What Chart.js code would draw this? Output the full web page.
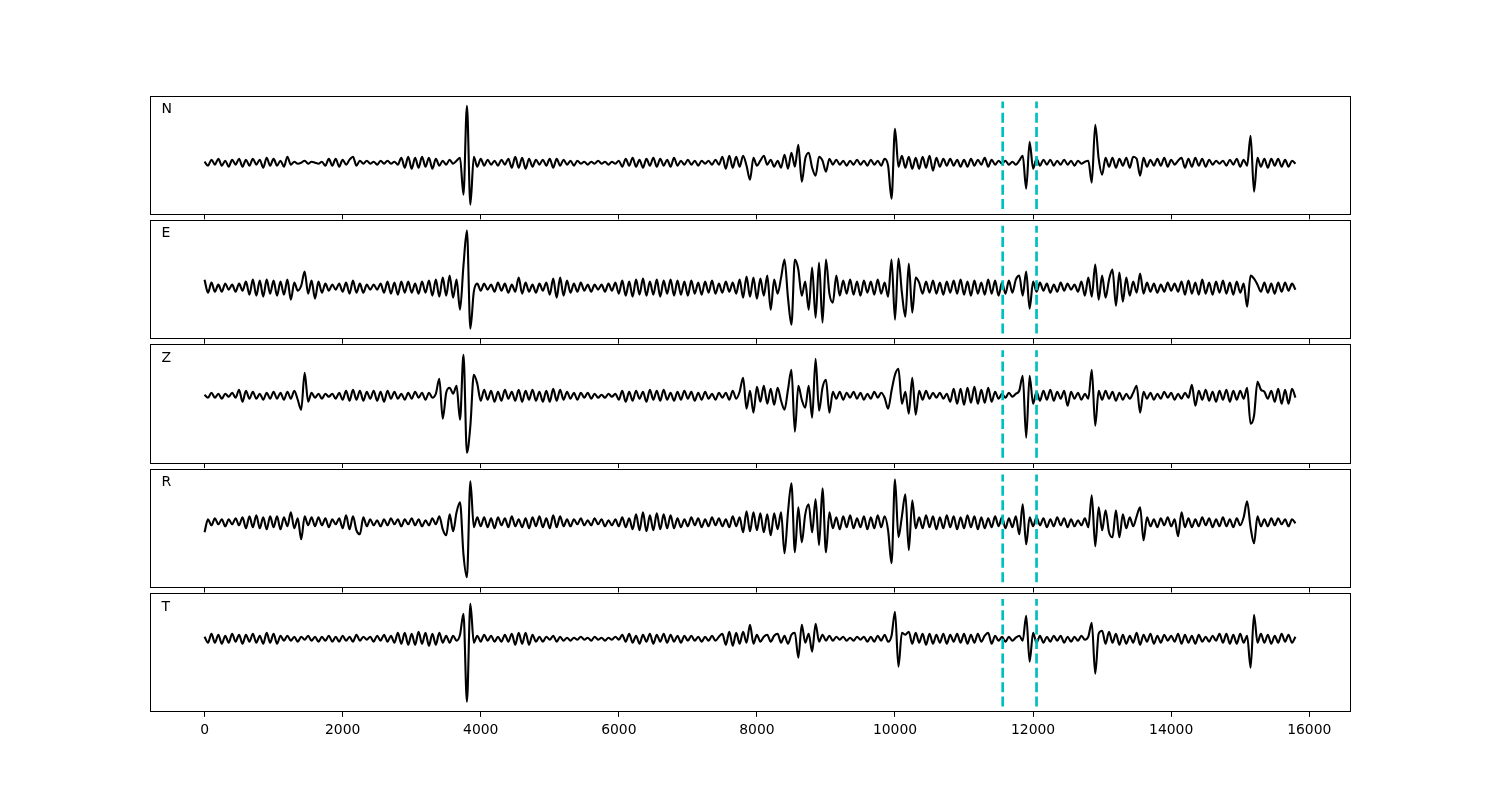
<!DOCTYPE html>
<html>
<head>
<meta charset="utf-8">
<script src="https://cdn.jsdelivr.net/npm/chart.js@4"></script>
<style>
    body { margin: 0; background: #fff; }
    #wrap { position: relative; width: 1500px; height: 800px; background: #fff; }
    #wrap canvas { position: absolute; left: 0; }
</style>
</head>
<body>
<div id="wrap"></div>
<script>
// channel names, one panel each
const channels = ['N', 'E', 'Z', 'R', 'T'];
const sampleStep = 50;
const pickTimes = [11560, 12050];   // cyan dashed markers
const markerLow = [-46.4, -45.8, -62.1, -59.9, -67.9];
const markerHigh = [61.3, 61.9, 45.6, 47.8, 39.8];
const tickValues = [0, 2000, 4000, 6000, 8000, 10000, 12000, 14000, 16000];

// amplitudes (arbitrary units, up = positive)
const traceN = [
    1, -3, 3, -2, 4, -3, 2, -4, 3, -2, 4, -4, 3, -3, 4, -2, 3, -5, 5, -3,
    4, -3, 2, -4, 6, -2, 1, -1, 0, 2, -1, 1, 0, -1, 1, -3, 4, -3, 4, -4,
    3, -2, 3, 6, -3, 2, -1, 2, -1, 1, -2, 2, -1, 2, -1, 1, -2, 5, -5, 6,
    -6, 5, -5, 6, -4, 5, -6, 4, -3, 2, -2, 3, -1, 2, 5, -32, 57, -42, 6, -4,
    4, -3, 3, -2, 2, -3, 3, -2, 4, -5, 6, -5, 5, -6, 4, -4, 3, -2, 3, -3,
    4, -5, 4, -3, 3, -2, 2, -3, 2, -1, 1, -2, 1, -1, 2, -1, 1, -2, 1, -1,
    2, -4, 4, -3, 5, -4, 3, -5, 4, -3, 5, -4, 4, -3, 3, -4, 5, -3, 2, -2,
    3, -2, 2, -3, 2, -1, 2, -2, 3, -2, 6, -6, 7, -5, 6, -4, 7, -3, -17, 5,
    -3, 2, 7, -2, 3, -4, 2, -5, 8, -6, 10, -4, 18, -19, 4, 10, -5, -13, 6, 2,
    -9, 4, -2, 3, -2, 2, -3, 2, -2, 3, -2, 2, -3, 3, -2, 2, -3, 4, -3, -36,
    34, -4, 7, -5, 6, -6, 5, -6, 6, -5, 7, -8, 5, -4, 4, -3, 4, -3, 3, -4,
    3, -4, 4, -3, 3, -2, 5, -4, 3, -2, 2, -1, 2, -2, 1, -2, 2, 7, -26, 21,
    -6, 4, -3, 3, -2, 3, -3, 2, -2, 3, -2, 2, -3, 2, -1, 1, 2, -20, 38, 4,
    -12, 5, -4, 5, -5, 4, -3, 5, -5, 6, 4, -13, 5, -4, 3, -3, 4, -3, 5, -4,
    3, -2, 2, 5, -5, 4, -4, 5, -3, 4, -4, 3, -2, 2, -1, 2, -3, 3, -2, 4,
    -4, 3, -3, 27, -29, 5, -4, 4, -5, 4, -3, 4, -4, 3, -4, 2, -1
];
const traceE = [
    8, -5, 5, -4, 3, -4, 4, -2, 3, -4, 4, -3, 6, -7, 8, -8, 7, -9, 8, -6,
    7, -8, 6, -7, 8, -12, 5, -3, 2, 16, -6, 7, -11, 6, -5, 4, -3, 3, -2, 4,
    -4, 5, -6, 7, -5, 4, -5, 3, -2, 3, -2, 4, -5, 6, -6, 5, -7, 6, -5, 6,
    -5, 4, -6, 6, -5, 7, -8, 8, -9, 10, -8, 12, -10, 8, -22, 22, 57, -41, -4, 4,
    -3, 4, -2, 3, -4, 5, -3, 4, -5, 3, -4, 10, -6, 5, -4, 3, -5, 4, -3, 5,
    -7, 9, -10, 10, -8, 7, -5, 4, -4, 5, -3, 3, -4, 3, -2, 3, -4, 4, -3, 5,
    -6, 7, -8, 6, -9, 8, -7, 9, -8, 6, -7, 8, -9, 7, -6, 8, -8, 7, -7, 6,
    -8, 7, -6, 5, -7, 6, -5, 7, -6, 4, -5, 6, -4, 5, -6, 8, -10, 11, -9, 10,
    -11, 9, -8, 12, -22, 8, -6, 10, 28, -10, -37, 28, 18, -8, 6, -22, 20, -30, 25, -35,
    28, -6, -15, 12, -8, 7, -6, 8, -7, 6, -8, 7, -5, 6, -7, 8, -6, 5, -9, 28,
    -32, 29, -5, -29, 24, -25, 10, 5, -6, 6, -5, 7, -6, 5, -7, 6, -5, 7, -6, 8,
    -7, 6, -8, 7, -6, 5, -7, 8, -6, 7, -8, 5, -6, 7, -5, 8, 12, -8, 16, -21,
    6, -4, 5, -3, 4, -5, 3, -4, 5, -3, 4, -2, 3, -4, 6, -8, 10, -9, 23, -12,
    12, -10, 8, 18, -18, 15, -14, 10, -8, 6, -5, 14, -6, 5, -4, 4, -5, 3, -4, 5,
    -3, 4, -4, 6, -7, 7, -6, 5, -7, 8, -6, 5, -7, 6, -5, 7, -6, 5, -7, 6,
    -5, 4, -19, 12, 9, 3, -4, 5, -5, 4, -6, 5, -4, 5, -3, 4, -2
];
const traceZ = [
    1, -2, 3, -2, 2, -3, 2, -1, 3, -2, 6, -6, 5, -3, 4, -3, 2, -4, 3, -3,
    4, -3, 3, -4, 4, -3, 5, -4, -14, 23, -6, 3, -2, 2, -3, 2, -1, 2, -3, 3,
    -4, 5, -5, 6, -4, 5, -5, 4, -3, 5, -5, 4, -6, 5, -3, 4, -3, 2, -4, 3,
    -3, 4, -2, 3, -4, 3, -2, 2, 17, -23, 3, 8, 2, 10, -24, 41, -57, -30, 21, 12,
    -5, 6, -4, 5, -6, 4, -5, 6, -3, 4, -5, 6, -6, 5, -4, 6, -5, 4, -6, 5,
    -6, 7, -5, 6, -4, 4, -3, 3, -4, 3, -2, 3, -3, 2, -2, 1, -2, 2, -1, 2,
    -4, 5, -6, 4, -5, 5, -3, 4, -6, 6, -4, 5, -5, 6, -4, 3, -5, 4, -4, 5,
    -3, 4, -5, 3, -4, 4, -3, 2, -4, 3, -2, 3, -4, 5, -3, 4, 18, -13, 5, -17,
    9, -6, 10, -8, 7, -9, 8, -5, -14, 6, 26, -36, 10, -4, -12, 10, -22, 37, -15, 8,
    16, -17, 4, -3, 4, -4, 3, -2, 4, -3, 3, -4, 2, -3, 4, -2, 3, -2, -13, 5,
    21, 27, -8, 4, -18, 18, -19, 5, -4, 5, -3, 3, -2, 3, -3, 2, -6, 7, -8, 7,
    -9, 8, -7, 9, -8, 6, -7, 8, -6, 4, -3, 2, -2, 3, -1, 2, 5, 20, -42, 20,
    -8, 4, -5, 5, -4, 6, -5, 4, -3, 5, -10, 4, -3, 3, -4, 2, -3, 26, -30, 5,
    -4, 5, -3, 4, -5, 3, -4, 2, -3, 3, 10, -17, 4, -3, 3, -4, 2, -3, 4, -2,
    3, -4, 2, -3, 3, -2, 11, -10, 5, -4, 6, -5, 4, -6, 5, -4, 6, -6, 5, -4,
    5, -3, 8, -28, -20, 14, 6, 4, -3, 5, -6, 7, -8, 6, -8, 7, -2
];
const traceR = [
    -10, 3, -3, 4, -2, 3, -4, 3, -2, 4, -3, 5, -6, 6, -5, 7, -6, 5, -7, 6,
    -5, 6, -7, 5, -4, 10, -6, 4, -17, 6, -3, 5, -4, 5, -3, 4, -5, 3, -2, 4,
    -6, 7, -7, 6, -8, -12, 5, -4, 3, -3, 2, -4, 3, -3, 4, -2, 3, -4, 3, -2,
    4, -3, 3, -4, 2, -3, 4, -2, 6, -7, -13, 8, -9, 10, 20, -32, -55, 41, -5, 5,
    -4, 5, -5, 4, -6, 5, -3, 4, -5, 6, -4, 3, -5, 4, -6, 5, -4, 6, -5, 4,
    -6, 7, -5, 6, -4, 3, -4, 3, -2, 4, -3, 2, -3, 4, -2, 3, -4, 2, -3, 3,
    -4, 5, -5, 4, -7, 8, -8, 10, -9, 7, -8, 9, -7, 8, -6, 7, -6, 4, -5, 3,
    -4, 5, -3, 4, -5, 3, -4, 5, -3, 4, -4, 3, -5, 6, -4, 5, -10, 11, -9, 10,
    -8, 9, -10, 8, -13, 9, -7, 10, -31, 10, 39, -30, 15, -20, 8, 18, -10, 23, -23, 34,
    -30, 10, -6, 5, -7, 6, -5, 7, -6, 4, -5, 6, -7, 5, -6, 7, -5, 6, -8, -41,
    43, -15, 6, 28, -28, 22, -6, 5, -6, 7, -5, 6, -7, 5, -6, 7, -5, 6, -7, 5,
    -6, 7, -5, 6, -7, 5, -6, 4, -5, 6, -4, 5, -6, 4, -5, 6, -12, 18, -22, 5,
    -4, 5, -3, 4, -5, 3, -4, 5, -3, 4, -5, 3, -4, 2, -3, 4, -5, 27, -24, 15,
    -8, 12, -10, -15, 12, -15, 8, -6, 5, -4, 6, 15, -18, 5, -4, 3, -5, 4, -3, 5,
    -4, 3, -14, 10, -5, 4, -5, 3, -4, 5, -3, 4, -5, 3, -4, 5, -4, 3, -5, 4,
    -3, 5, 21, -5, -21, 6, -4, 3, -4, 4, -3, 4, -2, 3, -4, 3, -1
];
const traceT = [
    2, -4, 5, -4, 4, -5, 3, -4, 5, -3, 4, -5, 4, -3, 5, -4, 3, -5, 6, -4,
    5, -5, 3, -2, 3, -2, 2, -3, 2, -1, 3, -2, 2, -3, 2, -2, 3, -3, 2, -3,
    3, -2, 2, -3, 4, -2, 2, -1, 2, -3, 3, -2, 4, -3, 3, -4, 6, -5, 6, -6,
    5, -6, 7, -5, 6, -7, 5, -6, 6, -4, 3, -4, 3, -2, 4, 25, -63, 35, -4, 3,
    -3, 4, -2, 3, -3, 2, -3, 4, -3, 5, -6, 6, -5, 6, -6, 4, -3, 2, -3, 2,
    -1, 3, -3, 2, -2, 1, -2, 1, -1, 2, -1, 1, -2, 2, -1, 1, -2, 1, -1, 2,
    -1, 4, -3, 5, -4, 3, -5, 4, -3, 5, -5, 4, -3, 5, -4, 4, -3, 3, -4, 3,
    -2, 3, -2, 2, -3, 2, -2, 3, -2, 2, 5, -6, 7, -7, 6, -5, 7, -4, 14, -5,
    4, -3, 2, 4, -3, 3, 5, -4, 3, -5, 4, 6, -19, 14, -4, 5, -13, 15, -3, 4,
    -2, 3, -2, 2, -1, 2, -2, 1, -2, 2, -1, 2, -3, 2, -3, 3, -2, 4, -3, 3,
    27, -28, 6, 4, 7, -5, 6, -4, 5, -6, 5, -5, 4, -4, 5, -5, 4, -3, 5, -4,
    5, -5, 4, -4, 5, -3, 3, 6, -5, 3, -2, 2, -3, 2, -2, 1, 3, -2, 23, -23,
    6, -4, 3, -4, 2, -3, 3, -2, 3, -4, 2, -3, 2, -2, 3, -1, 2, 16, -35, 5,
    8, -5, 7, -4, 5, -6, 4, -5, 3, -4, 6, -6, 4, -3, 5, -5, 3, -4, 4, -2,
    3, -3, 5, -5, 4, -4, 3, -5, 4, -3, 2, -3, 3, -2, 5, -4, 5, -5, 4, -5,
    5, -4, 3, -29, 24, -4, 5, -4, 4, -5, 3, -4, 5, -3, 4, -4, 2
];
const traces = [traceN, traceE, traceZ, traceR, traceT];

// frame box and channel name in the corner of each panel
const panelDecor = {
    id: 'panelDecor',
    afterDatasetsDraw(chart, args, opts) {
        const { ctx, chartArea: a } = chart;
        const l = Math.floor(a.left) + 0.5, t = Math.floor(a.top) + 0.5;
        const r = Math.floor(a.right) + 0.5, b = Math.floor(a.bottom) + 0.5;
        ctx.save();
        ctx.strokeStyle = '#000';
        ctx.lineWidth = 1;
        ctx.strokeRect(l, t, r - l, b - t);
        ctx.fillStyle = '#000';
        ctx.font = '14px "DejaVu Sans"';
        ctx.textBaseline = 'alphabetic';
        ctx.fillText(opts.label, a.left + 11.5, a.top + 17);
        ctx.restore();
    }
};

const wrap = document.getElementById('wrap');
const panelH = 118.46, panelGap = 5.92;

channels.forEach((name, k) => {
    const last = k === channels.length - 1;
    const top = 96 + k * (panelH + panelGap);
    const bottom = top + panelH;
    const canvasTop = Math.floor(top) - 4;
    const canvasH = last ? 800 - canvasTop : Math.ceil(bottom) + 6 - canvasTop;
    const axisH = canvasH - (bottom - canvasTop);

    const canvas = document.createElement('canvas');
    canvas.width = 1500;
    canvas.height = canvasH;
    canvas.style.top = canvasTop + 'px';
    wrap.appendChild(canvas);

    const lo = markerLow[k], hi = markerHigh[k];
    const span = hi - lo;

    const markerSets = pickTimes.map(t => ({
        data: [{ x: t, y: lo }, { x: t, y: hi }],
        borderColor: '#00bfbf',
        borderWidth: 2.7,
        borderDash: [10, 4.4],
        pointRadius: 0,
        order: 0
    }));

    new Chart(canvas, {
        type: 'line',
        data: {
            datasets: [
                ...markerSets,
                {
                    data: traces[k].map((v, i) => ({ x: i * sampleStep, y: v })),
                    borderColor: '#000',
                    borderWidth: 2.1,
                    borderJoinStyle: 'round',
                    pointRadius: 0,
                    cubicInterpolationMode: 'monotone',
                    order: 1
                }
            ]
        },
        options: {
            responsive: false,
            animation: false,
            layout: { padding: { left: 150, right: 150, top: top - canvasTop, bottom: 0 } },
            plugins: {
                legend: { display: false },
                tooltip: { enabled: false },
                panelDecor: { label: name }
            },
            scales: {
                x: {
                    type: 'linear',
                    min: -790,
                    max: 16590,
                    afterBuildTicks: (s) => { s.ticks = tickValues.map(v => ({ value: v })); },
                    afterFit: (s) => { s.height = axisH; },
                    grid: { drawOnChartArea: false, drawTicks: true, tickLength: 4.9, color: '#000', lineWidth: 1 },
                    border: { display: false },
                    ticks: {
                        display: last,
                        color: '#000',
                        padding: 5.5,
                        autoSkip: false,
                        maxRotation: 0,
                        font: { family: 'DejaVu Sans', size: 13.9 },
                        callback: (v) => String(v)
                    }
                },
                y: {
                    display: false,
                    min: lo - 0.05 * span,
                    max: hi + 0.05 * span
                }
            }
        },
        plugins: [panelDecor]
    });
});
</script>
</body>
</html>
